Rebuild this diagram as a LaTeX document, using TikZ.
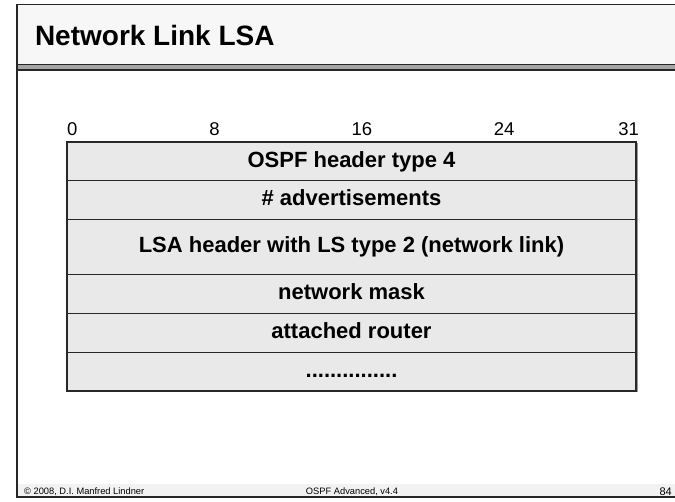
\documentclass[tikz,border=0pt]{standalone}
\usepackage{fontspec}
\setmainfont{Liberation Sans}
\usetikzlibrary{positioning}
\definecolor{barfill}{RGB}{247,247,247}
\definecolor{footfill}{RGB}{242,242,242}
\definecolor{rowfill}{RGB}{233,233,233}
\definecolor{rowline}{RGB}{40,40,40}
\definecolor{rulegray}{RGB}{165,165,165}
\tikzset{
	fieldbox/.style={draw=rowline,fill=rowfill,line width=1.2pt,minimum width=569pt,inner sep=0pt,outer sep=0pt,
		text height=16pt,text depth=4.5pt,font=\fontsize{22}{26}\selectfont\bfseries},
	bitlabel/.style={anchor=base west,inner sep=0pt,font=\fontsize{18.5}{22}\selectfont},
	foottext/.style={anchor=base west,inner sep=0pt,font=\fontsize{9.3}{11}\selectfont}
}
\newcommand{\fieldrow}[4]{\node[fieldbox,minimum height=#3,below=0pt of #2] (#1) {#4};}

\begin{document}
\begin{tikzpicture}[x=1pt,y=-1pt]
		\clip (0,0) rectangle (675,502);
		\fill[white] (0,0) rectangle (675,502);
		\fill[barfill] (17,4.5) rectangle (690,64.5);
		\fill[footfill] (17,484) rectangle (690,497);
		\fill[rulegray] (17,65.5) rectangle (690,69.5);
		\draw[line width=1.4pt,black!85] (17,64.8) -- (690,64.8);
		\draw[line width=1.2pt,black!85] (17,70) -- (690,70);
		\draw[line width=1.8pt,black!85] (17,4.5) rectangle (690,497);
		\node[anchor=base west,inner sep=0pt,font=\fontsize{28}{32}\selectfont\bfseries] (title) at (34.8,45.7) {Network Link LSA};
		\foreach \b in {0,8,16,24,31}
			\node[bitlabel] (bit\b) at ({67+\b*17.78},136) {\b};
		\fill[black!40] (68.5,143.5) rectangle (637.5,392.5);
		\node[fieldbox,minimum height=38.8pt,anchor=north west] (ospfhdr) at (67,142) {OSPF header type 4};
		\fieldrow{numadv}{ospfhdr}{38.8pt}{\# advertisements}
		\fieldrow{lsahdr}{numadv}{55pt}{LSA header with LS type 2 (network link)}
		\fieldrow{netmask}{lsahdr}{38.8pt}{network mask}
		\fieldrow{attrtr}{netmask}{38.8pt}{attached router}
		\fieldrow{more}{attrtr}{38.8pt}{...............}
		\node[foottext] (copy) at (24,494) {© 2008, D.I. Manfred Lindner};
		\node[foottext,anchor=base] (course) at (352,494) {OSPF Advanced, v4.4};
		\node[anchor=base east,inner sep=0pt,font=\fontsize{11}{13}\selectfont] (pageno) at (672,496) {84};
\end{tikzpicture}
\end{document}
